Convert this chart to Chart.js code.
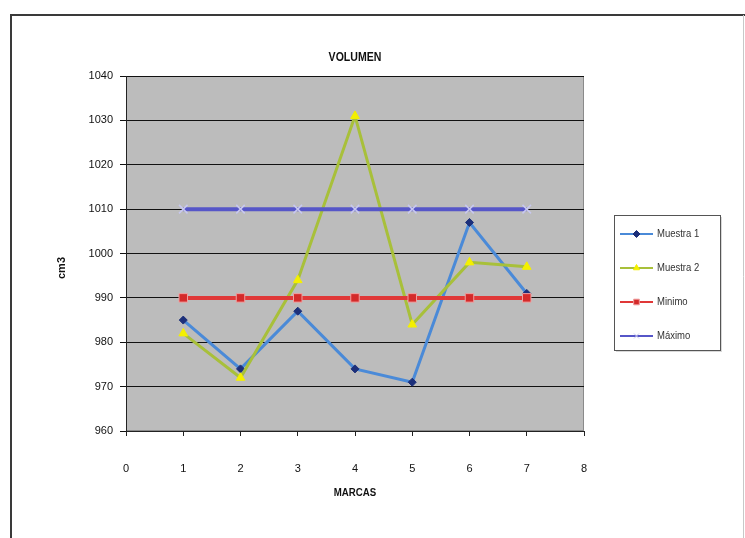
<!DOCTYPE html>
<html>
<head>
<meta charset="utf-8">
<script src="https://cdn.jsdelivr.net/npm/chart.js@4.4.1/dist/chart.umd.min.js"></script>
<style>
  html, body { margin: 0; padding: 0; background: #ffffff; }
  #wrap { width: 745px; height: 538px; position: relative; }
</style>
</head>
<body>
<div id="wrap"><canvas id="c" width="745" height="538"></canvas></div>
<script>
const marcas = [1, 2, 3, 4, 5, 6, 7];
const muestra1 = [985, 974, 987, 974, 971, 1007, 991];
const muestra2 = [982, 972, 994, 1031, 984, 998, 997];
const minimo = [990, 990, 990, 990, 990, 990, 990];
const maximo = [1010, 1010, 1010, 1010, 1010, 1010, 1010];
const seriesNames = ['Muestra 1', 'Muestra 2', 'Minimo', 'Máximo'];
const chartTitle = 'VOLUMEN';
const xTitle = 'MARCAS';
const yTitle = 'cm3';

const FONT = "'Liberation Sans', Arial, sans-serif";

function pts(vals) { return marcas.map((m, i) => ({ x: m, y: vals[i] })); }

const styles = [
  { line: '#4a8ad8', point: '#1c2f7a', pointBorder: '#1c2f7a', style: 'rectRot', radius: 4, lw: 3 },
  { line: '#a8c03a', point: '#f4f000', pointBorder: '#f4f000', style: 'triangle', radius: 5, lw: 3 },
  { line: '#e03838', point: '#d42a2a', pointBorder: '#f0a0a0', style: 'rect', radius: 6, lw: 4 },
  { line: '#5656c8', point: '#c8c8f0', pointBorder: '#c8c8f0', style: 'crossRot', radius: 6, lw: 4 }
];
const allVals = [muestra1, muestra2, minimo, maximo];

const datasets = allVals.map((v, i) => ({
  label: seriesNames[i],
  data: pts(v),
  showLine: true,
  borderColor: styles[i].line,
  borderWidth: styles[i].lw,
  backgroundColor: styles[i].point,
  pointBackgroundColor: styles[i].point,
  pointBorderColor: styles[i].pointBorder,
  pointBorderWidth: i === 3 ? 1.5 : 1,
  pointStyle: styles[i].style,
  pointRadius: styles[i].radius,
  tension: 0,
  order: 4 - i
}));

function narrowText(ctx, text, x, y, sx) {
  ctx.save();
  ctx.translate(x, y);
  ctx.scale(sx, 1);
  ctx.fillText(text, 0, 0);
  ctx.restore();
}

const decor = {
  id: 'decor',
  beforeDraw(chart) {
    const ctx = chart.ctx, a = chart.chartArea;
    ctx.save();
    ctx.fillStyle = '#ffffff';
    ctx.fillRect(0, 0, chart.width, chart.height);
    ctx.strokeStyle = '#3a3a3a';
    ctx.lineWidth = 2;
    ctx.beginPath();
    ctx.moveTo(11, 540); ctx.lineTo(11, 15); ctx.lineTo(745, 15);
    ctx.stroke();
    ctx.strokeStyle = '#c8c8c8';
    ctx.lineWidth = 1;
    ctx.beginPath(); ctx.moveTo(743.5, 15); ctx.lineTo(743.5, 538); ctx.stroke();
    ctx.fillStyle = '#bcbcbc';
    ctx.fillRect(a.left, a.top, a.right - a.left, a.bottom - a.top);
    ctx.strokeStyle = '#8a8a8a';
    ctx.lineWidth = 1;
    ctx.strokeRect(a.left + 0.5, a.top + 0.5, a.right - a.left - 1, a.bottom - a.top - 1);
    ctx.restore();
  },
  afterDraw(chart) {
    const ctx = chart.ctx, a = chart.chartArea;
    ctx.save();
    ctx.fillStyle = '#111111';
    ctx.textAlign = 'center';
    ctx.textBaseline = 'middle';
    ctx.font = 'bold 12px ' + FONT;
    narrowText(ctx, chartTitle, (a.left + a.right) / 2, 58, 0.88);
    ctx.font = 'bold 11px ' + FONT;
    narrowText(ctx, xTitle, (a.left + a.right) / 2, 493, 0.88);
    ctx.save();
    ctx.translate(62, 268);
    ctx.rotate(-Math.PI / 2);
    ctx.fillText(yTitle, 0, 0);
    ctx.restore();

    // legend
    const lx = 614, ly = 215, lw = 106, lh = 135;
    ctx.fillStyle = '#d8d8d8';
    ctx.fillRect(lx + 2, ly + 2, lw, lh);
    ctx.fillStyle = '#ffffff';
    ctx.fillRect(lx, ly, lw, lh);
    ctx.strokeStyle = '#555555';
    ctx.lineWidth = 1;
    ctx.strokeRect(lx + 0.5, ly + 0.5, lw, lh);
    const ys = [234, 268, 302, 336];
    chart.data.datasets.forEach((ds, i) => {
      const y = ys[i];
      ctx.strokeStyle = ds.borderColor;
      ctx.lineWidth = 2;
      ctx.beginPath(); ctx.moveTo(620, y); ctx.lineTo(653, y); ctx.stroke();
      ctx.fillStyle = ds.pointBackgroundColor;
      ctx.strokeStyle = ds.pointBorderColor;
      ctx.lineWidth = 1;
      Chart.helpers.drawPoint(ctx, {
        pointStyle: ds.pointStyle,
        radius: ds.pointStyle === 'rect' ? 4 : 3.5,
        borderWidth: 1,
        rotation: 0
      }, 636.5, y);
      ctx.fillStyle = '#333333';
      ctx.textAlign = 'left';
      ctx.textBaseline = 'middle';
      ctx.font = '10px ' + FONT;
      narrowText(ctx, ds.label, 657, y + 0.5, 0.95);
    });
    ctx.restore();
  }
};

const tickFont = { family: FONT, size: 11 };

new Chart(document.getElementById('c'), {
  type: 'scatter',
  data: { datasets },
  options: {
    responsive: false,
    animation: false,
    devicePixelRatio: 1,
    layout: { padding: { left: 0, right: 161, top: 76, bottom: 0 } },
    plugins: { legend: { display: false }, title: { display: false }, tooltip: { enabled: false } },
    scales: {
      x: {
        type: 'linear', min: 0, max: 8,
        afterFit(s) { s.height = 107; },
        ticks: { stepSize: 1, padding: 26, color: '#111', font: tickFont, callback: v => String(v) },
        grid: { display: true, drawOnChartArea: false, drawTicks: true, tickLength: 5, color: '#222' },
        border: { display: true, color: '#222', width: 1 }
      },
      y: {
        type: 'linear', min: 960, max: 1040,
        afterFit(s) { s.width = 126; },
        ticks: { stepSize: 10, padding: 7, color: '#111', font: tickFont, callback: v => String(v) },
        grid: { display: true, color: '#111', lineWidth: 1, tickLength: 6 },
        border: { display: true, color: '#222', width: 1 }
      }
    }
  },
  plugins: [decor]
});
</script>
</body>
</html>
